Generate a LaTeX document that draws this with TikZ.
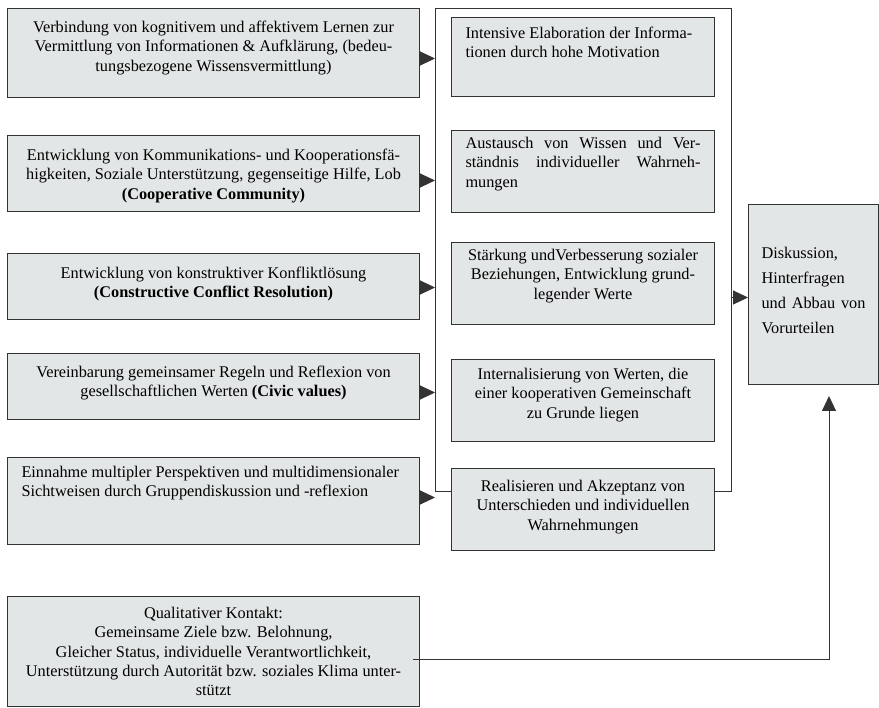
\documentclass[tikz,border=0pt]{standalone}
\usepackage{fontspec}
\setmainfont{Liberation Serif}
\usetikzlibrary{arrows.meta}
\definecolor{boxfill}{HTML}{E3E6E6}
\definecolor{boxline}{HTML}{333333}
\newcommand\btxt[4]{\parbox[c][#2][t]{#1}{\rule{0pt}{#3}#4}}
\begin{document}
\begin{tikzpicture}[x=1pt,y=-1pt,
  font=\fontsize{16.3}{19.3}\selectfont,
  box/.style={draw=boxline, fill=boxfill, line width=1pt, inner ysep=0pt, anchor=north west},
  framebox/.style={draw=boxline, line width=1pt, inner sep=0pt, anchor=north west},
  arr/.style={line width=1pt, draw=boxline, -{Triangle[length=15pt,width=14pt]}}]
\useasboundingbox (0,0) rectangle (879,708);
% left column
\node[box, inner xsep=6pt] (l1) at (7,8) {\btxt{400pt}{89pt}{24pt}{\centering
 Verbindung von kognitivem und affektivem Lernen zur\\
 Vermittlung von Informationen \& Aufklärung, (bedeu-\\
 tungsbezogene Wissensvermittlung)}};
\node[box, inner xsep=6pt] (l2) at (7,135) {\btxt{400pt}{76pt}{25pt}{\centering
 Entwicklung von Kommunikations- und Kooperationsfä-\\
 higkeiten, Soziale Unterstützung, gegenseitige Hilfe, Lob\\
 \textbf{(Cooperative Community)}}};
\node[box, inner xsep=6pt] (l3) at (7,253) {\btxt{400pt}{66pt}{25pt}{\centering
 Entwicklung von konstruktiver Konfliktlösung\\
 \textbf{(Constructive Conflict Resolution)}}};
\node[box, inner xsep=6pt] (l4) at (7,353) {\btxt{400pt}{66pt}{24pt}{\centering
 Vereinbarung gemeinsamer Regeln und Reflexion von\\
 gesellschaftlichen Werten \textbf{(Civic values)}}};
\node[box, inner xsep=14pt] (l5) at (7,457) {\btxt{384pt}{87pt}{20pt}{\raggedright
 Einnahme multipler Perspektiven und multidimensionaler\\
 Sichtweisen durch Gruppendiskussion und -reflexion}};
\node[box, inner xsep=6pt] (l6) at (7,596) {\btxt{400pt}{110pt}{22pt}{\centering
 Qualitativer Kontakt:\\
 Gemeinsame Ziele bzw. Belohnung,\\
 Gleicher Status, individuelle Verantwortlichkeit,\\
 Unterstützung durch Autorität bzw. soziales Klima unter-\\
 stützt}};
% frame around middle column
\node[framebox, minimum width=296pt, minimum height=483pt] (fr) at (435,8) {};
% middle column
\node[box, inner xsep=14pt] (m1) at (451,17) {\btxt{235pt}{79pt}{21pt}{\raggedright
 Intensive Elaboration der Informa-\\
 tionen durch hohe Motivation}};
\node[box, inner xsep=14pt] (m2) at (451,130) {\btxt{235pt}{82pt}{18pt}{%
 Austausch von Wissen und Ver-\linebreak
 ständnis individueller Wahrneh-\linebreak
 mungen}};
\node[box, inner xsep=8pt] (m3) at (451,242) {\btxt{247pt}{82pt}{18pt}{\centering
 Stärkung undVerbesserung sozialer\\
 Beziehungen, Entwicklung grund-\\
 legender Werte}};
\node[box, inner xsep=8pt] (m4) at (451,359) {\btxt{247pt}{82pt}{20pt}{\centering
 Internalisierung von Werten, die\\
 einer kooperativen Gemeinschaft\\
 zu Grunde liegen}};
\node[box, inner xsep=8pt] (m5) at (451,468) {\btxt{247pt}{82pt}{23pt}{\centering
 Realisieren und Akzeptanz von\\
 Unterschieden und individuellen\\
 Wahrnehmungen}};
% right box
\node[box, inner xsep=13pt] (r) at (748,204) {\btxt{104pt}{180pt}{54pt}{\baselineskip=25pt
 Diskussion,\newline
 Hinterfragen\newline
 und Abbau von\linebreak
 Vorurteilen}};
\coordinate (tip) at (829,396);
% connectors
\draw[arr] ([yshift=-5.5pt]l1.east) -- ([yshift=-5.5pt]l1.east -| fr.west);
\draw[arr] ([yshift=-7pt]l2.east) -- ([yshift=-7pt]l2.east -| fr.west);
\draw[arr] ([yshift=-1pt]l3.east) -- ([yshift=-1pt]l3.east -| fr.west);
\draw[arr] ([yshift=-6pt]l4.east) -- ([yshift=-6pt]l4.east -| fr.west);
\draw[arr] ([yshift=3.5pt]l5.east) -- ([yshift=3.5pt]l5.east -| fr.west);
\draw[arr] ([yshift=-3pt]r.west -| fr.east) -- ([yshift=-3pt]r.west);
\draw[arr] ([xshift=-7pt,yshift=-8pt]l6.east) -| (tip);
\end{tikzpicture}
\end{document}
